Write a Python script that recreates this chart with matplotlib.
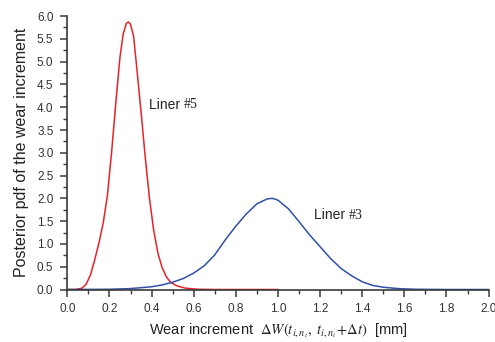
"""Posterior pdf of the wear increment for two liners (#5 and #3)."""

import matplotlib

matplotlib.use("Agg")
import matplotlib.pyplot as plt  # noqa: E402
from matplotlib.ticker import MultipleLocator  # noqa: E402

plt.rcParams["font.family"] = ["Liberation Sans", "DejaVu Sans"]
plt.rcParams["mathtext.fontset"] = "stix"

COL_LINER5 = "#e8222a"   # vermelho
COL_LINER3 = "#3050a8"   # azul
COL_AXIS = "#3a3a3a"

# Liner #5 (curva vermelha)
liner5_x = [0.0, 0.04, 0.07, 0.09, 0.11, 0.13, 0.15, 0.17, 0.19, 0.21, 0.23,
            0.25, 0.265, 0.28, 0.29, 0.30, 0.315, 0.33, 0.35, 0.37, 0.39,
            0.41, 0.43, 0.45, 0.47, 0.49, 0.52, 0.56, 0.62, 0.70, 1.0]
liner5_y = [0.0, 0.0, 0.03, 0.12, 0.32, 0.65, 1.02, 1.45, 2.05, 3.0, 4.08,
            5.1, 5.6, 5.84, 5.87, 5.82, 5.55, 4.85, 3.9, 2.9, 2.0,
            1.3, 0.8, 0.48, 0.28, 0.16, 0.08, 0.03, 0.005, 0.0, 0.0]

# Liner #3 (curva azul)
liner3_x = [0.0, 0.2, 0.3, 0.35, 0.4, 0.45, 0.5, 0.55, 0.6, 0.65, 0.7, 0.75,
            0.8, 0.85, 0.9, 0.95, 0.975, 1.0, 1.05, 1.1, 1.15, 1.2, 1.25, 1.3,
            1.35, 1.4, 1.45, 1.5, 1.57, 1.65, 1.8, 2.0]
liner3_y = [0.0, 0.005, 0.02, 0.04, 0.06, 0.1, 0.16, 0.24, 0.36, 0.52, 0.76,
            1.09, 1.39, 1.66, 1.88, 1.99, 2.0, 1.96, 1.77, 1.49, 1.2, 0.94,
            0.68, 0.46, 0.30, 0.17, 0.09, 0.05, 0.02, 0.005, 0.0, 0.0]

# rotulos das curvas: (texto, numero, x, y)
labels = [("Liner ", "#5", 0.388, 4.05), ("Liner ", "#3", 1.172, 1.63)]


def main() -> None:
    fig = plt.figure(figsize=(4.95, 3.42), dpi=100)
    ax = fig.add_axes([0.136, 0.1535, 0.851, 0.7995])

    ax.plot(liner5_x, liner5_y, color=COL_LINER5, lw=1.1)
    ax.plot(liner3_x, liner3_y, color=COL_LINER3, lw=1.1)

    for txt, num, x, y in labels:
        t = ax.text(x, y, txt, fontsize=10, va="center", color="#222222")
        ax.annotate(num, xy=(1, 0.5), xycoords=t, va="center", ha="left",
                    fontsize=10, family="Liberation Serif", color="#222222")

    ax.set_xlim(0, 2.0)
    ax.set_ylim(0, 6.0)
    ax.xaxis.set_major_locator(MultipleLocator(0.2))
    ax.xaxis.set_minor_locator(MultipleLocator(0.1))
    ax.yaxis.set_major_locator(MultipleLocator(0.5))
    ax.yaxis.set_minor_locator(MultipleLocator(0.25))
    ax.xaxis.set_major_formatter(lambda v, p: f"{v:.1f}")
    ax.yaxis.set_major_formatter(lambda v, p: f"{v:.1f}")

    for side in ("top", "right"):
        ax.spines[side].set_visible(False)
    for side in ("left", "bottom"):
        ax.spines[side].set_color(COL_AXIS)
        ax.spines[side].set_linewidth(1.2)

    ax.tick_params(which="major", length=5, width=1.1, color=COL_AXIS,
                   labelsize=8.5, labelcolor="#333333", pad=5)
    ax.tick_params(which="minor", length=3, width=1.0, color=COL_AXIS)

    ax.set_xlabel(r"Wear increment  $\Delta W(t_{i,n_i},\ t_{i,n_i}\!+\!\Delta t)$  [mm]",
                  fontsize=10.5, color="#222222", labelpad=4)
    ax.set_ylabel("Posterior pdf of the wear increment",
                  fontsize=11.5, color="#222222", labelpad=6)

    fig.savefig("out.png", dpi=100)
    plt.close(fig)


if __name__ == "__main__":
    main()
